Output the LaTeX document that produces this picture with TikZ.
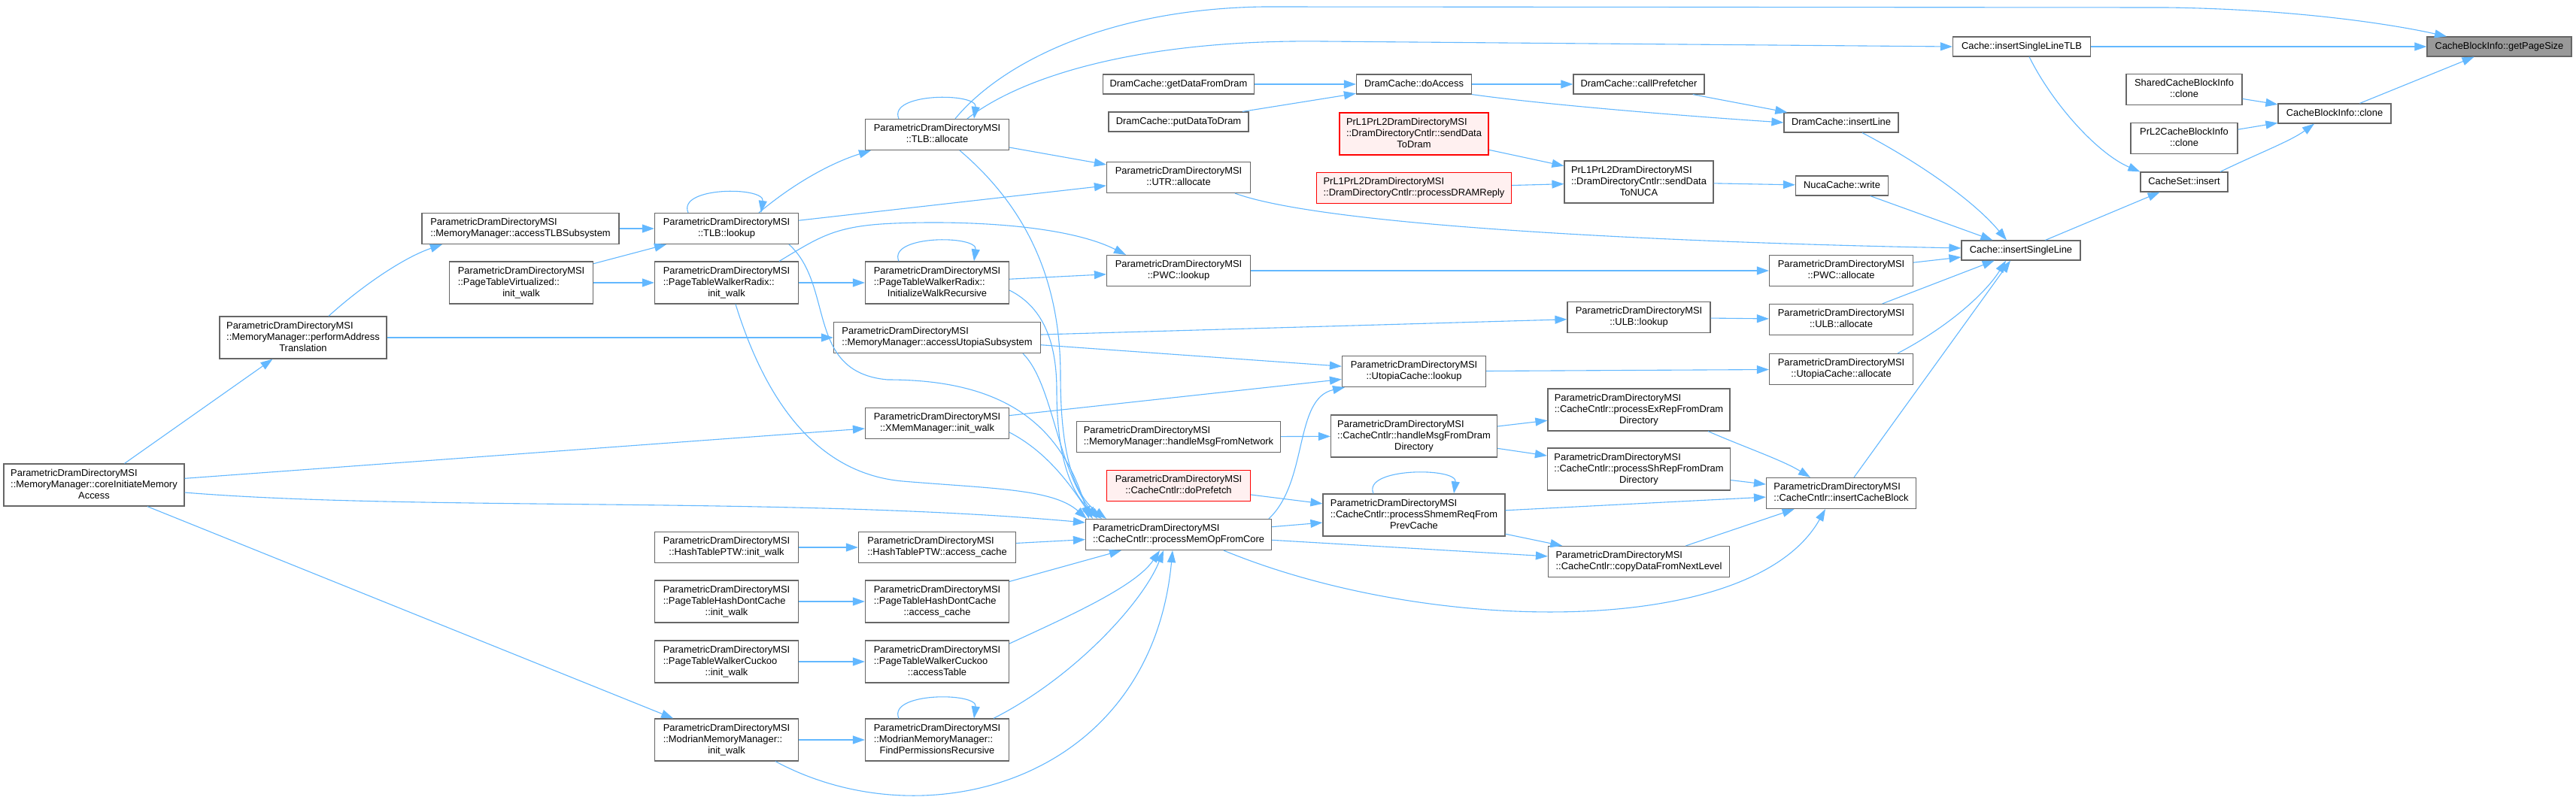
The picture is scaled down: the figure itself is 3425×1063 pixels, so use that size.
\documentclass[tikz,border=0pt]{standalone}
\usepackage{fontspec}
\setmainfont{Liberation Sans}
\usetikzlibrary{arrows.meta}
\definecolor{edgeblue}{HTML}{63B8FF}
\definecolor{boxgray}{HTML}{666666}
\definecolor{redfill}{HTML}{FFF0F0}
\definecolor{curfill}{HTML}{999999}
\newcommand{\fnfont}{\fontsize{12.9pt}{15pt}\selectfont}
\newcommand{\oneln}[1]{\begin{tabular}{@{}c@{}}#1\end{tabular}}
\newcommand{\twoln}[2]{\begin{tabular}{@{}l@{}}#1\\\multicolumn{1}{@{}c@{}}{#2}\end{tabular}}
\newcommand{\threeln}[3]{\begin{tabular}{@{}l@{}}#1\\#2\\\multicolumn{1}{@{}c@{}}{#3}\end{tabular}}
\begin{document}
\begin{tikzpicture}[x=1pt,y=-1pt,
  fn/.style={draw=boxgray,fill=white,line width=1.2pt,inner sep=0pt,font=\fnfont},
  fnred/.style={fn,draw=red,fill=redfill},
  fncur/.style={fn,fill=curfill},
  h1/.style={minimum height=26},
  h2/.style={minimum height=41},
  h3/.style={minimum height=56},
  calls/.style={draw=edgeblue,line width=1.1pt,-{Triangle[length=16pt,width=11pt]}}]
\path[fill=white,use as bounding box] (0,0) rectangle (3425,1063);
\node[fn,h3,minimum width=240] (core) at (125,645) {\threeln{ParametricDramDirectoryMSI}{::MemoryManager::coreInitiateMemory}{Access}};
\node[fn,h3,minimum width=222] (pat) at (403,449) {\threeln{ParametricDramDirectoryMSI}{::MemoryManager::performAddress}{Translation}};
\node[fn,h2,minimum width=262] (tlbsub) at (692,304) {\twoln{ParametricDramDirectoryMSI}{::MemoryManager::accessTLBSubsystem}};
\node[fn,h3,minimum width=191] (ptvirt) at (693,376) {\threeln{ParametricDramDirectoryMSI}{::PageTableVirtualized::}{init\_walk}};
\node[fn,h2,minimum width=191] (tlblookup) at (966,304) {\twoln{ParametricDramDirectoryMSI}{::TLB::lookup}};
\node[fn,h3,minimum width=191] (radixinit) at (966,376) {\threeln{ParametricDramDirectoryMSI}{::PageTableWalkerRadix::}{init\_walk}};
\node[fn,h2,minimum width=191] (hashinit) at (966,728) {\twoln{ParametricDramDirectoryMSI}{::HashTablePTW::init\_walk}};
\node[fn,h3,minimum width=191] (dontinit) at (966,800) {\threeln{ParametricDramDirectoryMSI}{::PageTableHashDontCache}{::init\_walk}};
\node[fn,h3,minimum width=191] (cuckooinit) at (966,880) {\threeln{ParametricDramDirectoryMSI}{::PageTableWalkerCuckoo}{::init\_walk}};
\node[fn,h3,minimum width=191] (modinit) at (966,984) {\threeln{ParametricDramDirectoryMSI}{::ModrianMemoryManager::}{init\_walk}};
\node[fn,h2,minimum width=191] (tlballoc) at (1246,179) {\twoln{ParametricDramDirectoryMSI}{::TLB::allocate}};
\node[fn,h3,minimum width=191] (radixrec) at (1246,376) {\threeln{ParametricDramDirectoryMSI}{::PageTableWalkerRadix::}{InitializeWalkRecursive}};
\node[fn,h2,minimum width=275] (utopiasub) at (1246,449) {\twoln{ParametricDramDirectoryMSI}{::MemoryManager::accessUtopiaSubsystem}};
\node[fn,h2,minimum width=191] (xmem) at (1246,563) {\twoln{ParametricDramDirectoryMSI}{::XMemManager::init\_walk}};
\node[fn,h2,minimum width=209] (hashacc) at (1246,728) {\twoln{ParametricDramDirectoryMSI}{::HashTablePTW::access\_cache}};
\node[fn,h3,minimum width=191] (dontacc) at (1246,800) {\threeln{ParametricDramDirectoryMSI}{::PageTableHashDontCache}{::access\_cache}};
\node[fn,h3,minimum width=191] (cuckooacc) at (1246,880) {\threeln{ParametricDramDirectoryMSI}{::PageTableWalkerCuckoo}{::accessTable}};
\node[fn,h3,minimum width=191] (findperm) at (1246,984) {\threeln{ParametricDramDirectoryMSI}{::ModrianMemoryManager::}{FindPermissionsRecursive}};
\node[fn,h1,minimum width=201] (getdata) at (1567,112) {\oneln{DramCache::getDataFromDram}};
\node[fn,h1,minimum width=186] (putdata) at (1567,162) {\oneln{DramCache::putDataToDram}};
\node[fn,h2,minimum width=191] (utralloc) at (1567,236) {\twoln{ParametricDramDirectoryMSI}{::UTR::allocate}};
\node[fn,h2,minimum width=191] (pwclookup) at (1567,360) {\twoln{ParametricDramDirectoryMSI}{::PWC::lookup}};
\node[fn,h2,minimum width=271] (netmsg) at (1567,581) {\twoln{ParametricDramDirectoryMSI}{::MemoryManager::handleMsgFromNetwork}};
\node[fnred,h2,minimum width=191] (prefetch) at (1567,646) {\twoln{ParametricDramDirectoryMSI}{::CacheCntlr::doPrefetch}};
\node[fn,h2,minimum width=247] (memop) at (1567,711) {\twoln{ParametricDramDirectoryMSI}{::CacheCntlr::processMemOpFromCore}};
\node[fn,h1,minimum width=153] (doaccess) at (1880,112) {\oneln{DramCache::doAccess}};
\node[fnred,h3,minimum width=198] (todram) at (1880,178) {\threeln{PrL1PrL2DramDirectoryMSI}{::DramDirectoryCntlr::sendData}{ToDram}};
\node[fnred,h2,minimum width=259] (dramreply) at (1880,250) {\twoln{PrL1PrL2DramDirectoryMSI}{::DramDirectoryCntlr::processDRAMReply}};
\node[fn,h2,minimum width=191] (uclookup) at (1880,494) {\twoln{ParametricDramDirectoryMSI}{::UtopiaCache::lookup}};
\node[fn,h3,minimum width=221] (dirmsg) at (1880,580) {\threeln{ParametricDramDirectoryMSI}{::CacheCntlr::handleMsgFromDram}{Directory}};
\node[fn,h3,minimum width=242] (shmem) at (1880,685) {\threeln{ParametricDramDirectoryMSI}{::CacheCntlr::processShmemReqFrom}{PrevCache}};
\node[fn,h1,minimum width=174] (callpf) at (2179,112) {\oneln{DramCache::callPrefetcher}};
\node[fn,h3,minimum width=198] (tonuca) at (2179,242) {\threeln{PrL1PrL2DramDirectoryMSI}{::DramDirectoryCntlr::sendData}{ToNUCA}};
\node[fn,h2,minimum width=190] (ulblookup) at (2179,422) {\twoln{ParametricDramDirectoryMSI}{::ULB::lookup}};
\node[fn,h3,minimum width=242] (exrep) at (2179,545) {\threeln{ParametricDramDirectoryMSI}{::CacheCntlr::processExRepFromDram}{Directory}};
\node[fn,h3,minimum width=243] (shrep) at (2179,624) {\threeln{ParametricDramDirectoryMSI}{::CacheCntlr::processShRepFromDram}{Directory}};
\node[fn,h2,minimum width=241] (copynext) at (2179,747) {\twoln{ParametricDramDirectoryMSI}{::CacheCntlr::copyDataFromNextLevel}};
\node[fn,h1,minimum width=152] (dcinsert) at (2448,163) {\oneln{DramCache::insertLine}};
\node[fn,h1,minimum width=123] (nucawrite) at (2449,247) {\oneln{NucaCache::write}};
\node[fn,h2,minimum width=191] (pwcalloc) at (2448,360) {\twoln{ParametricDramDirectoryMSI}{::PWC::allocate}};
\node[fn,h2,minimum width=191] (ulballoc) at (2448,425) {\twoln{ParametricDramDirectoryMSI}{::ULB::allocate}};
\node[fn,h2,minimum width=191] (ucalloc) at (2448,491) {\twoln{ParametricDramDirectoryMSI}{::UtopiaCache::allocate}};
\node[fn,h2,minimum width=199] (insblock) at (2448,656) {\twoln{ParametricDramDirectoryMSI}{::CacheCntlr::insertCacheBlock}};
\node[fn,h1,minimum width=158] (insline) at (2687,333) {\oneln{Cache::insertSingleLine}};
\node[fn,h1,minimum width=183] (inslinetlb) at (2688,62) {\oneln{Cache::insertSingleLineTLB}};
\node[fn,h2,minimum width=154] (sharedclone) at (2904,119) {\twoln{SharedCacheBlockInfo}{::clone}};
\node[fn,h2,minimum width=142] (prl2clone) at (2904,184) {\twoln{PrL2CacheBlockInfo}{::clone}};
\node[fn,h1,minimum width=116] (setinsert) at (2904,242) {\oneln{CacheSet::insert}};
\node[fn,h1,minimum width=150] (cbiclone) at (3104,151) {\oneln{CacheBlockInfo::clone}};
\node[fncur,h1,minimum width=192] (pagesize) at (3323,62) {\oneln{CacheBlockInfo::getPageSize}};
\draw[calls] (core) -- (pat);
\draw[calls] (core) -- (xmem);
\draw[calls] ([yshift=-10]core.east) .. controls (550,680) and (1050,660) .. ([yshift=16]memop.west);
\draw[calls] (core) -- (modinit);
\draw[calls] ([xshift=34]pat.north) .. controls (470,390) and (530,345) .. ([xshift=-104]tlbsub.south);
\draw[calls] (pat) -- (utopiasub);
\draw[calls] (tlbsub) -- (tlblookup);
\draw[calls] (ptvirt) -- (tlblookup);
\draw[calls] (ptvirt) -- (radixinit);
\draw[calls] ([xshift=-51]tlblookup.north) .. controls +(-15,-35) and +(5,-35) .. ([xshift=46]tlblookup.north);
\draw[calls] ([xshift=43]tlblookup.north) .. controls (1060,240) and (1110,215) .. ([xshift=-88]tlballoc.south);
\draw[calls] (tlblookup) -- (utralloc);
\draw[calls] ([xshift=83]tlblookup.south) .. controls (1110,380) and (1070,495) .. (1180,505) .. controls (1330,505) and (1410,560) .. ([xshift=5]memop.north west);
\draw[calls] (radixinit) -- (radixrec);
\draw[calls] ([xshift=70]radixinit.north) .. controls (1090,315) and (1110,300) .. (1190,297) .. controls (1290,293) and (1420,300) .. ([xshift=-70]pwclookup.north);
\draw[calls] ([xshift=12]radixinit.south) .. controls (1020,540) and (1090,630) .. (1200,640) .. controls (1320,650) and (1400,650) .. ([xshift=2]memop.north west);
\draw[calls] (hashinit) -- (hashacc);
\draw[calls] (dontinit) -- (dontacc);
\draw[calls] (cuckooinit) -- (cuckooacc);
\draw[calls] (modinit) -- (findperm);
\draw[calls] ([xshift=65]modinit.south) .. controls (1230,1120) and (1530,1040) .. ([xshift=-8]memop.south);
\draw[calls] ([xshift=-51]tlballoc.north) .. controls +(-15,-35) and +(5,-35) .. ([xshift=49]tlballoc.north);
\draw[calls] ([xshift=24]tlballoc.north) .. controls (1330,85) and (1470,12) .. (1680,9) -- (2880,10) .. controls (3040,12) and (3170,30) .. ([xshift=-70]pagesize.north);
\draw[calls] ([xshift=40]tlballoc.north) .. controls (1360,100) and (1520,52) .. (1760,55) -- (inslinetlb.west);
\draw[calls] (tlballoc) -- (utralloc);
\draw[calls] ([xshift=30]tlballoc.south) .. controls (1370,280) and (1410,380) .. (1410,500) .. controls (1410,610) and (1430,660) .. ([xshift=28]memop.north west);
\draw[calls] ([xshift=-51]radixrec.north) .. controls +(-15,-35) and +(5,-35) .. ([xshift=49]radixrec.north);
\draw[calls] (radixrec) -- (pwclookup);
\draw[calls] ([yshift=-10]radixrec.east) .. controls (1390,410) and (1405,460) .. (1405,520) .. controls (1405,610) and (1425,660) .. ([xshift=22]memop.north west);
\draw[calls] (utopiasub) -- (ulblookup);
\draw[calls] (utopiasub) -- (uclookup);
\draw[calls] ([xshift=114]utopiasub.south) .. controls (1400,510) and (1405,620) .. ([xshift=16]memop.north west);
\draw[calls] (xmem) -- (uclookup);
\draw[calls] ([yshift=-12]xmem.east) .. controls (1390,600) and (1420,640) .. ([xshift=10]memop.north west);
\draw[calls] (hashacc) -- (memop);
\draw[calls] (dontacc) -- (memop);
\draw[calls] ([yshift=24]cuckooacc.east) .. controls (1420,820) and (1510,780) .. ([xshift=-25]memop.south);
\draw[calls] ([xshift=-51]findperm.north) .. controls +(-15,-35) and +(5,-35) .. ([xshift=49]findperm.north);
\draw[calls] ([xshift=75]findperm.north) .. controls (1430,900) and (1520,800) .. ([xshift=-20]memop.south);
\draw[calls] (getdata) -- (doaccess);
\draw[calls] (putdata) -- (doaccess);
\draw[calls] ([xshift=75]utralloc.south) .. controls (1760,300) and (2200,322) .. ([yshift=3]insline.west);
\draw[calls] (pwclookup) -- (pwcalloc);
\draw[calls] (netmsg) -- (dirmsg);
\draw[calls] (prefetch) -- (shmem);
\draw[calls] (memop) -- (shmem);
\draw[calls] (memop) -- (copynext);
\draw[calls] ([xshift=120]memop.north) .. controls (1740,640) and (1720,530) .. ([xshift=-92]uclookup.south);
\draw[calls] ([xshift=60]memop.south) .. controls (1900,845) and (2330,850) .. ([xshift=-21]insblock.south);
\draw[calls] (doaccess) -- (callpf);
\draw[calls] (doaccess.south east) .. controls (2060,140) and (2250,155) .. (dcinsert.west);
\draw[calls] (todram) -- (tonuca);
\draw[calls] (dramreply) -- (tonuca);
\draw[calls] (uclookup) -- (ucalloc);
\draw[calls] (dirmsg) -- (exrep);
\draw[calls] (dirmsg) -- (shrep);
\draw[calls] ([xshift=-54]shmem.north) .. controls +(-15,-35) and +(5,-35) .. ([xshift=53]shmem.north);
\draw[calls] (shmem) -- (insblock);
\draw[calls] (shmem) -- (copynext);
\draw[calls] (callpf) -- (dcinsert);
\draw[calls] (tonuca) -- (nucawrite);
\draw[calls] (ulblookup) -- (ulballoc);
\draw[calls] ([xshift=92]exrep.south) .. controls (2320,595) and (2370,612) .. ([xshift=-41]insblock.north);
\draw[calls] (shrep) -- (insblock);
\draw[calls] (copynext) -- (insblock);
\draw[calls] ([xshift=28]dcinsert.south) .. controls (2540,210) and (2620,262) .. ([xshift=-19]insline.north);
\draw[calls] (nucawrite) -- (insline);
\draw[calls] (pwcalloc) -- (insline);
\draw[calls] (ulballoc) -- (insline);
\draw[calls] ([xshift=75]ucalloc.north) .. controls (2590,435) and (2640,390) .. ([xshift=-20]insline.south);
\draw[calls] ([xshift=17]insblock.north) -- ([xshift=-14]insline.south);
\draw[calls] (inslinetlb) -- (pagesize);
\draw[calls] ([xshift=10]inslinetlb.south) .. controls (2730,140) and (2790,205) .. (setinsert.north west);
\draw[calls] (insline) -- (setinsert);
\draw[calls] (sharedclone) -- (cbiclone);
\draw[calls] (prl2clone) -- (cbiclone);
\draw[calls] ([xshift=48]setinsert.north) .. controls (3000,205) and (3045,188) .. ([xshift=-27]cbiclone.south);
\draw[calls] (cbiclone) -- (pagesize);
\end{tikzpicture}
\end{document}
